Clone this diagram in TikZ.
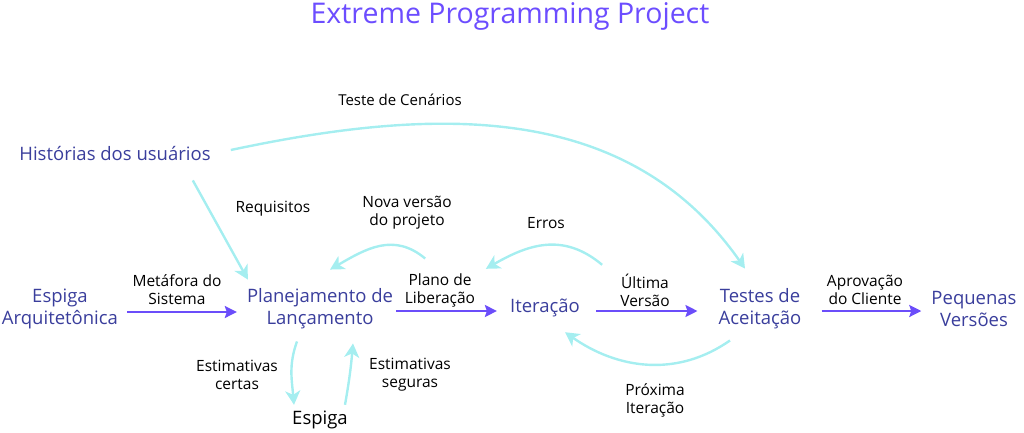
\documentclass[tikz,border=0pt]{standalone}
\usepackage{fontspec}
\setmainfont{Open Sans}
\usetikzlibrary{arrows.meta}
\definecolor{nodeblue}{RGB}{58,62,156}
\definecolor{titlepurple}{RGB}{108,77,255}
\definecolor{arrpurple}{RGB}{107,77,250}
\definecolor{arrcyan}{RGB}{165,238,240}
\tikzset{
  main/.style={inner sep=0pt, align=center, text=nodeblue, font=\fontsize{18.5}{22}\selectfont},
  lbl/.style={inner sep=0pt, align=center, text=black, font=\fontsize{15.5}{18}\selectfont},
  flow/.style={draw=arrpurple, line width=2.2pt, -{Stealth[length=12pt,width=12pt,inset=2pt]}},
  loop/.style={draw=arrcyan, line width=2.4pt, -{Stealth[length=14pt,width=15pt,inset=4pt]}},
}
\begin{document}
\begin{tikzpicture}[x=1pt,y=-1pt]
\useasboundingbox (0,0) rectangle (1024,432);
\node[inner sep=0pt, text=titlepurple, font=\fontsize{28.5}{32}\selectfont] (title) at (510,16) {Extreme Programming Project};

\node[main] (hist) at (115,153) {Histórias dos usuários};
\node[main] (esp) at (60,309) {Espiga\\Arquitetônica};
\node[main] (plan) at (320,309) {Planejamento de\\Lançamento};
\node[main] (iter) at (545,308) {Iteração};
\node[main] (test) at (760,309) {Testes de\\Aceitação};
\node[main] (peq) at (974,309) {Pequenas\\Versões};
\node[lbl, font=\fontsize{18.5}{22}\selectfont] (spike) at (320,420) {Espiga};

\node[lbl, font=\fontsize{15}{18}\selectfont] (lcen) at (400,100) {Teste de Cenários};
\node[lbl] (lreq) at (273,209) {Requisitos};
\node[lbl] (lnova) at (407,213) {Nova versão\\do projeto};
\node[lbl] (lerr) at (546,223) {Erros};
\node[lbl] (lmet) at (177,290) {Metáfora do\\Sistema};
\node[lbl] (lpla) at (440,290) {Plano de\\Liberação};
\node[lbl] (lult) at (645,290) {Última\\Versão};
\node[lbl] (lapr) at (865,290) {Aprovação\\do Cliente};
\node[lbl] (lcer) at (237,375) {Estimativas\\certas};
\node[lbl] (lseg) at (410,375) {Estimativas\\seguras};
\node[lbl] (lprx) at (655,400) {Próxima\\Iteração};

% purple flow arrows
\draw[flow] ([shift={(9,3)}]esp.east) -- ([shift={(-10,3)}]plan.west);
\draw[flow] ([shift={(3,2)}]plan.east) -- ([shift={(-13,3)}]iter.west);
\draw[flow] ([shift={(16,3)}]iter.east) -- ([shift={(-21,2)}]test.west);
\draw[flow] ([shift={(20,2)}]test.east) -- ([shift={(-10,2)}]peq.west);

% cyan loops
\draw[loop] ([shift={(-18,20)}]hist.south east) -- ([shift={(1,-9)}]plan.north west);
\draw[loop] ([shift={(20,-3)}]hist.east) to[out=12,in=125,looseness=1.0] ([shift={(-15,-20)}]test.north);
\draw[loop] ([shift={(32,-30)}]plan.north east) to[out=140,in=30,looseness=1.1] ([shift={(10,-19)}]plan.north);
\draw[loop] ([shift={(22,-34)}]iter.north east) to[out=140,in=30,looseness=1.1] ([shift={(-24,-30)}]iter.north west);
\draw[loop] ([shift={(-30,11)}]test.south) to[out=-145,in=-35,looseness=1.0] ([shift={(20,15)}]iter.south);
\draw[loop] ([shift={(-23,12)}]plan.south) to[out=-110,in=95,looseness=1.0] ([shift={(-26,-6)}]spike.north);
\draw[loop] ([shift={(25,-6)}]spike.north) to[out=80,in=-95,looseness=1.0] ([shift={(33,14)}]plan.south);
\end{tikzpicture}
\end{document}
